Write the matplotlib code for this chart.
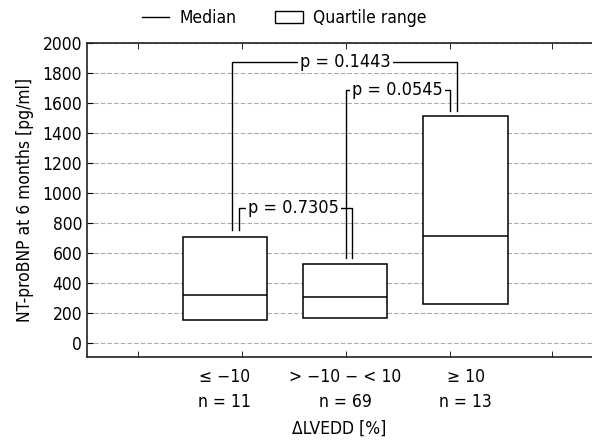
import matplotlib.pyplot as plt
from matplotlib.lines import Line2D
from matplotlib.patches import Patch

plt.rcParams['font.family'] = ['DejaVu Sans']
plt.rcParams['font.stretch'] = 'condensed'

groups = ["\u2264 \u221210\nn = 11", "> \u221210 \u2212 < 10\nn = 69", "\u2265 10\nn = 13"]
q1 = [150, 167, 260]
median = [320, 307, 713]
q3 = [707, 527, 1513]

# p-value brackets: (x left leg, x right leg, y top, y bottom left, y bottom right, label, text x)
brackets = [
    (1.058, 2.925, 1873, 756, 1545, "p = 0.1443", 2.0),
    (2.008, 2.867, 1686, 569, 1545, "p = 0.0545", 2.436),
    (1.116, 2.054, 903, 756, 569, "p = 0.7305", 1.57),
]
minor_ticks = [0.278, 1.141, 2.004, 2.867, 3.72]

fig = plt.figure(figsize=(5.92, 4.45), dpi=100)
ax = fig.add_axes([0.147, 0.198, 0.853, 0.705])

x = [1, 2, 3]
ax.bar(x, [b - a for a, b in zip(q1, q3)], bottom=q1, width=0.7,
       facecolor='white', edgecolor='black', linewidth=1.1, zorder=3)
ax.hlines(median, [i - 0.35 for i in x], [i + 0.35 for i in x],
          color='black', linewidth=1.1, zorder=4)

for xl, xr, yt, ybl, ybr, lab, tx in brackets:
    ax.plot([xl, xl, xr, xr], [ybl, yt, yt, ybr], color='black', linewidth=1.0, zorder=5)
    ax.text(tx, yt, lab, ha='center', va='center', fontsize=13, zorder=6,
            bbox=dict(facecolor='white', edgecolor='none', pad=1.5))

ax.set_xlim(-0.145, 4.05)
ax.set_ylim(-93, 2000)
ax.set_yticks(range(0, 2001, 200))
ax.set_xticks(x)
ax.set_xticklabels(groups, fontsize=12.5, linespacing=1.5)
ax.set_xticks(minor_ticks, minor=True)
ax.tick_params(axis='x', which='major', length=0, pad=8)
ax.tick_params(axis='x', which='minor', direction='in', length=4, top=True, bottom=True)
ax.tick_params(axis='y', direction='in', length=4, labelsize=12.5)
ax.yaxis.grid(True, linestyle=(0, (4, 2)), color='#aaaaaa', linewidth=0.8)
ax.set_axisbelow(True)
ax.spines['right'].set_visible(False)
for s in ['left', 'top', 'bottom']:
    ax.spines[s].set_linewidth(1.2)
    ax.spines[s].set_color('#222222')

ax.set_ylabel("NT-proBNP at 6 months [pg/ml]", fontsize=12.5, labelpad=6)
ax.set_xlabel("\u0394LVEDD [%]", fontsize=12.5, labelpad=6)

handles = [Line2D([], [], color='black', linewidth=1.0),
           Patch(facecolor='white', edgecolor='black', linewidth=1.0)]
fig.legend(handles, ["Median", "Quartile range"], loc='center', bbox_to_anchor=(0.48, 0.96),
           ncol=2, frameon=False, fontsize=12.5, handlelength=1.6, handletextpad=0.6,
           columnspacing=2.2)

fig.savefig("out.png", dpi=100)
